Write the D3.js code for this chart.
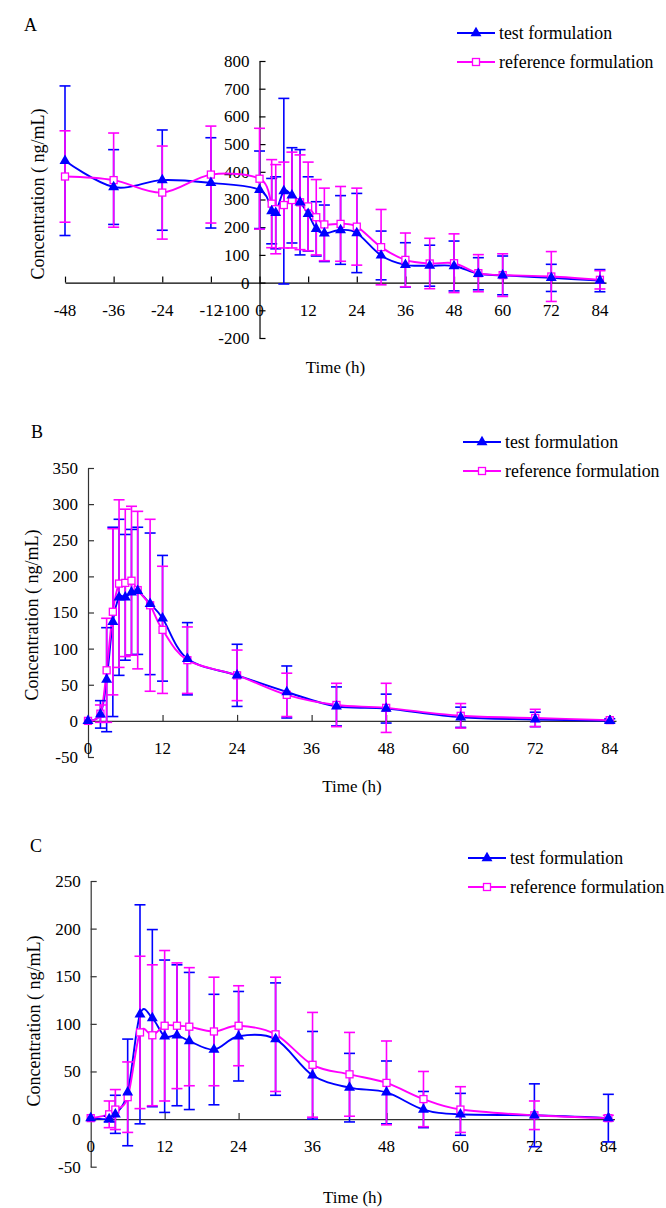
<!DOCTYPE html>
<html>
<head>
<meta charset="utf-8">
<script src="https://cdn.jsdelivr.net/npm/d3@7"></script>
<style>
body { margin: 0; background: #fff; }
text { font-family: "Liberation Serif", "Times New Roman", serif; fill: #000; }
</style>
</head>
<body>
<div id="chart"></div>
<script>
// Panel A data (time in h, mean and SD in ng/mL)
var timesA = [-48, -36, -24, -12, 0, 3, 4, 6, 8, 10, 12, 14, 16, 20, 24, 30, 36, 42, 48, 54, 60, 72, 84];
var testA = [440, 345, 370, 360, 335, 258, 252, 330, 315, 290, 248, 194, 178, 190, 179, 98, 64, 61, 60, 32, 26, 17, 7];
var testSdA = [270, 135, 181, 163, 140, 118, 130, 335, 172, 190, 134, 98, 102, 124, 143, 88, 80, 74, 90, 58, 70, 49, 40];
var refA = [383, 370, 325, 390, 375, 285, 265, 280, 298, 290, 275, 236, 210, 212, 202, 128, 82, 69, 70, 34, 27, 22, 10];
var refSdA = [165, 170, 168, 175, 182, 159, 161, 155, 173, 171, 160, 136, 131, 135, 139, 136, 97, 91, 106, 67, 77, 90, 33];

// Panel B data
var timesB = [0, 2, 3, 4, 5, 6, 7, 8, 10, 12, 16, 24, 32, 40, 48, 60, 72, 84];
var testB = [0, 9, 57, 137, 171, 171, 178, 180, 162, 142, 86, 63, 40, 20, 17, 5, 2, 0];
var testSdB = [2, 19, 72, 131, 108, 87, 87, 88, 98, 87, 50, 43, 36, 27, 20, 14, 10, 3];
var refB = [0, 10, 70, 151, 190, 191, 194, 181, 160, 126, 84, 63, 36, 22, 18, 7, 4, 1];
var refSdB = [2, 12, 72, 115, 116, 102, 103, 109, 119, 88, 46, 35, 30, 30, 34, 17, 12, 2];

// Panel C data
var timesC = [0, 3, 4, 6, 8, 10, 12, 14, 16, 20, 24, 30, 36, 42, 48, 54, 60, 72, 84];
var testC = [1, 0, 5, 28, 110, 106, 87, 88, 82, 73, 87, 84, 46, 33, 28, 10, 5, 4, 1];
var testSdC = [1, 3, 20, 56, 115, 93, 80, 74, 72, 58, 47, 59, 46, 36, 33, 19, 22, 33, 25];
var refC = [1, 5, 10, 23, 91, 88, 98, 98, 97, 92, 98, 89, 57, 47, 38, 21, 10, 4, 1];
var refSdC = [1, 14, 21, 37, 80, 74, 79, 66, 62, 57, 42, 60, 55, 44, 44, 29, 24, 15, 3];

var xTicksA = [-48, -36, -24, -12, 0, 12, 24, 36, 48, 60, 72, 84];
var xTicksBC = [0, 12, 24, 36, 48, 60, 72, 84];
var yTicksA = [-200, -100, 0, 100, 200, 300, 400, 500, 600, 700, 800];
var yTicksB = [-50, 0, 50, 100, 150, 200, 250, 300, 350];
var yTicksC = [-50, 0, 50, 100, 150, 200, 250];

var seriesNames = ["test formulation", "reference formulation"];
var blue = "#0000ff";
var pink = "#ff00ff";

var svgWidth = 666;
var svgHeight = 1208;

var svg = d3.select("#chart").append("svg")
    .attr("width", svgWidth)
    .attr("height", svgHeight);

function makeRows(times, vals, sds) {
    return times.map(function(t, i) { return { t: t, v: vals[i], sd: sds[i] }; });
}

function drawPanel(p) {
    var x = d3.scaleLinear().domain(p.xDomain).range(p.xRange);
    var y = d3.scaleLinear().domain(p.yDomain).range(p.yRange);
    var g = svg.append("g");

    // x axis, ticks pointing up
    var xAx = g.append("g")
        .attr("transform", `translate(0,${y(0)})`)
        .call(d3.axisTop(x).tickValues(p.xTicks).tickSizeInner(6).tickSizeOuter(0).tickFormat(""));
    xAx.selectAll("path,line").attr("stroke", p.axisColor).attr("stroke-width", 1.2);

    // y axis, ticks pointing right
    var yAx = g.append("g")
        .attr("transform", `translate(${x(0)},0)`)
        .call(d3.axisRight(y).tickValues(p.yTicks).tickSizeInner(6).tickSizeOuter(0).tickFormat(""));
    yAx.selectAll("path,line").attr("stroke", p.axisColor).attr("stroke-width", 1.2);

    g.selectAll(".xl").data(p.xTicks).enter().append("text")
        .attr("x", d => x(d)).attr("y", y(0) + 33)
        .attr("text-anchor", "middle").attr("font-size", 17)
        .text(d => d);

    g.selectAll(".yl").data(p.yTicks).enter().append("text")
        .attr("x", x(0) - 10).attr("y", d => y(d)).attr("dy", "0.35em")
        .attr("text-anchor", "end").attr("font-size", 17)
        .text(d => d);

    // titles
    g.append("text")
        .attr("transform", `translate(${p.yTitle[0]},${p.yTitle[1]}) rotate(-90)`)
        .attr("text-anchor", "middle").attr("dy", "0.35em").attr("font-size", 18)
        .text("Concentration ( ng/mL)");
    g.append("text")
        .attr("x", (p.xRange[0] + p.xRange[1]) / 2).attr("y", p.xTitleY)
        .attr("text-anchor", "middle").attr("font-size", 17)
        .text("Time (h)");
    g.append("text")
        .attr("x", p.label[0]).attr("y", p.label[1])
        .attr("font-size", 18)
        .text(p.name);

    var line = d3.line()
        .x(d => x(d.t)).y(d => y(d.v))
        .curve(d3.curveCardinal.tension(0));

    var series = [
        { rows: p.test, color: blue },
        { rows: p.ref, color: pink }
    ];

    // connecting lines
    series.forEach(function(s) {
        g.append("path").datum(s.rows)
            .attr("d", line)
            .attr("fill", "none")
            .attr("stroke", s.color)
            .attr("stroke-width", 1.9);
    });

    // error bars (mean +/- SD)
    series.forEach(function(s) {
        var rows = s.rows.filter(d => d.sd > 2);
        var eb = g.append("g").attr("stroke", s.color).attr("stroke-width", 1.6);
        eb.selectAll(".v").data(rows).enter().append("line")
            .attr("x1", d => x(d.t)).attr("x2", d => x(d.t))
            .attr("y1", d => y(d.v + d.sd)).attr("y2", d => y(d.v - d.sd));
        eb.selectAll(".cu").data(rows).enter().append("line")
            .attr("x1", d => x(d.t) - 5.5).attr("x2", d => x(d.t) + 5.5)
            .attr("y1", d => y(d.v + d.sd)).attr("y2", d => y(d.v + d.sd));
        eb.selectAll(".cl").data(rows).enter().append("line")
            .attr("x1", d => x(d.t) - 5.5).attr("x2", d => x(d.t) + 5.5)
            .attr("y1", d => y(d.v - d.sd)).attr("y2", d => y(d.v - d.sd));
    });

    // markers: squares first, triangles on top
    g.selectAll(".sq").data(p.ref).enter().append("rect")
        .attr("x", d => x(d.t) - 3.5).attr("y", d => y(d.v) - 3.5)
        .attr("width", 7).attr("height", 7)
        .attr("fill", "#fff").attr("stroke", pink).attr("stroke-width", 1.3);
    g.selectAll(".tri").data(p.test).enter().append("path")
        .attr("d", d3.symbol(d3.symbolTriangle).size(52))
        .attr("transform", d => `translate(${x(d.t)},${y(d.v)})`)
        .attr("fill", blue);

    // legend
    var lg = g.append("g");
    seriesNames.forEach(function(name, i) {
        var ly = p.legend[1] + i * 29;
        var c = i === 0 ? blue : pink;
        lg.append("line")
            .attr("x1", p.legend[0]).attr("x2", p.legend[0] + 38)
            .attr("y1", ly).attr("y2", ly)
            .attr("stroke", c).attr("stroke-width", 1.9);
        if (i === 0) {
            lg.append("path")
                .attr("d", d3.symbol(d3.symbolTriangle).size(52))
                .attr("transform", `translate(${p.legend[0] + 19},${ly})`)
                .attr("fill", blue);
        } else {
            lg.append("rect")
                .attr("x", p.legend[0] + 15.5).attr("y", ly - 3.5)
                .attr("width", 7).attr("height", 7)
                .attr("fill", "#fff").attr("stroke", pink).attr("stroke-width", 1.3);
        }
        lg.append("text")
            .attr("x", p.legend[0] + 42).attr("y", ly).attr("dy", "0.35em")
            .attr("font-size", 17.8)
            .text(name);
    });
}

drawPanel({
    name: "A",
    xDomain: [-48, 85.5], xRange: [65, 606],
    yDomain: [-200, 800], yRange: [338, 61],
    xTicks: xTicksA, yTicks: yTicksA,
    test: makeRows(timesA, testA, testSdA),
    ref: makeRows(timesA, refA, refSdA),
    axisColor: "#000",
    yTitle: [38, 194], xTitleY: 373, label: [24, 31],
    legend: [457, 33]
});

drawPanel({
    name: "B",
    xDomain: [0, 85], xRange: [88, 616],
    yDomain: [-50, 350], yRange: [757, 468],
    xTicks: xTicksBC, yTicks: yTicksB,
    test: makeRows(timesB, testB, testSdB),
    ref: makeRows(timesB, refB, refSdB),
    axisColor: "#333",
    yTitle: [32, 615], xTitleY: 792, label: [31, 438],
    legend: [463, 442]
});

drawPanel({
    name: "C",
    xDomain: [0, 85], xRange: [90.7, 614.5],
    yDomain: [-50, 250], yRange: [1166.7, 881],
    xTicks: xTicksBC, yTicks: yTicksC,
    test: makeRows(timesC, testC, testSdC),
    ref: makeRows(timesC, refC, refSdC),
    axisColor: "#333",
    yTitle: [34, 1021], xTitleY: 1203, label: [30, 852],
    legend: [468, 858]
});
</script>
</body>
</html>
